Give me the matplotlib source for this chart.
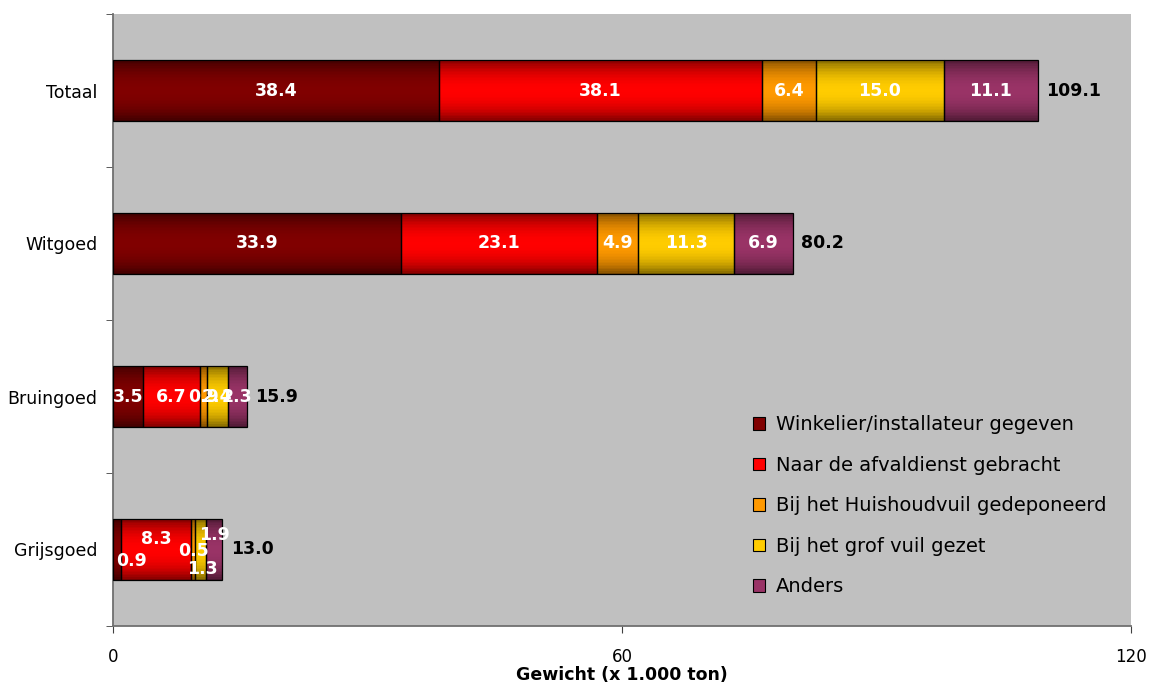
import numpy as np
import matplotlib.pyplot as plt
from matplotlib.colors import to_rgb
from matplotlib.patches import Patch

categories = ["Totaal", "Witgoed", "Bruingoed", "Grijsgoed"]
series_names = [
    "Winkelier/installateur gegeven",
    "Naar de afvaldienst gebracht",
    "Bij het Huishoudvuil gedeponeerd",
    "Bij het grof vuil gezet",
    "Anders",
]
winkelier = [38.4, 33.9, 3.5, 0.9]
afvaldienst = [38.1, 23.1, 6.7, 8.3]
huishoudvuil = [6.4, 4.9, 0.9, 0.5]
grof_vuil = [15.0, 11.3, 2.4, 1.3]
anders = [11.1, 6.9, 2.3, 1.9]
totals = [109.1, 80.2, 15.9, 13.0]
x_ticks = [0, 60, 120]

colors = ["#800000", "#FF0000", "#FF9900", "#FFCC00", "#993366"]

# Grijsgoed labels are shuffled around in the original to avoid overlap (x, y offsets in px)
grijs_offsets = [(15, -12), (0, 11), (0, -1), (2, -20), (0, 15)]

N_STRIPS = 40


def shade(color, t):
    # dark at top/bottom edge, full colour in the middle (Excel style gradient)
    f = 0.4 + 0.6 * np.sin(np.pi * t) ** 0.6
    return np.clip(np.array(to_rgb(color)) * f, 0, 1)


fig = plt.figure(figsize=(11.51, 6.86), dpi=100)
ax = fig.add_axes([113 / 1151, 1 - 626 / 686, (1131 - 113) / 1151, (626 - 14) / 686])
ax.set_facecolor("#C0C0C0")

y = np.arange(len(categories))
left = np.zeros(len(categories))
series = [winkelier, afvaldienst, huishoudvuil, grof_vuil, anders]
h = 0.4
strip_h = h / N_STRIPS

for s_idx, (vals, col) in enumerate(zip(series, colors)):
    vals = np.array(vals)
    for k in range(N_STRIPS):
        t = (k + 0.5) / N_STRIPS
        ax.barh(y - h / 2 + t * h, vals, left=left, height=strip_h * 1.05,
                color=shade(col, t), edgecolor="none", zorder=2)
    ax.barh(y, vals, left=left, height=h, facecolor="none", edgecolor="black", linewidth=0.9, zorder=3)
    for i, v in enumerate(vals):
        dx, dy = (0, 0)
        if categories[i] == "Grijsgoed":
            dx, dy = grijs_offsets[s_idx]
        ax.annotate(f"{v:.1f}", (left[i] + v / 2, y[i]), xytext=(dx * 0.72, dy * 0.72),
                    textcoords="offset points", ha="center", va="center",
                    color="white", fontsize=12.5, fontweight="bold", zorder=4)
    left = left + vals

for i, t in enumerate(totals):
    ax.annotate(f"{t:.1f}", (left[i], y[i]), xytext=(6, 0), textcoords="offset points",
                ha="left", va="center", color="black", fontsize=12.5, fontweight="bold", zorder=4)

ax.set_xlim(0, 120)
ax.set_ylim(3.5, -0.5)
ax.set_xticks(x_ticks)
ax.set_xticklabels([str(v) for v in x_ticks], fontsize=12)
ax.set_yticks(y)
ax.set_yticklabels(categories, fontsize=12.5)
ax.set_yticks(np.arange(-0.5, 4.0, 1.0), minor=True)
ax.tick_params(axis="y", which="major", length=0, pad=11)
ax.tick_params(axis="y", which="minor", length=5, color="#404040")
ax.tick_params(axis="x", length=5, color="#404040", pad=11)
ax.set_xlabel("Gewicht (x 1.000 ton)", fontsize=12.5, fontweight="bold", labelpad=0)

for side in ["top", "right"]:
    ax.spines[side].set_visible(False)
for side in ["left", "bottom"]:
    ax.spines[side].set_color("#707070")
    ax.spines[side].set_linewidth(1.3)

handles = [Patch(facecolor=c, edgecolor="black", linewidth=0.8) for c in colors]
leg = ax.legend(handles, series_names, loc="upper left", bbox_to_anchor=(735 / 1151, 1 - 398 / 686),
                bbox_transform=fig.transFigure, frameon=False, fontsize=14,
                handlelength=0.62, handleheight=0.62, handletextpad=0.6, labelspacing=1.1)

fig.savefig("out.png", dpi=100)
